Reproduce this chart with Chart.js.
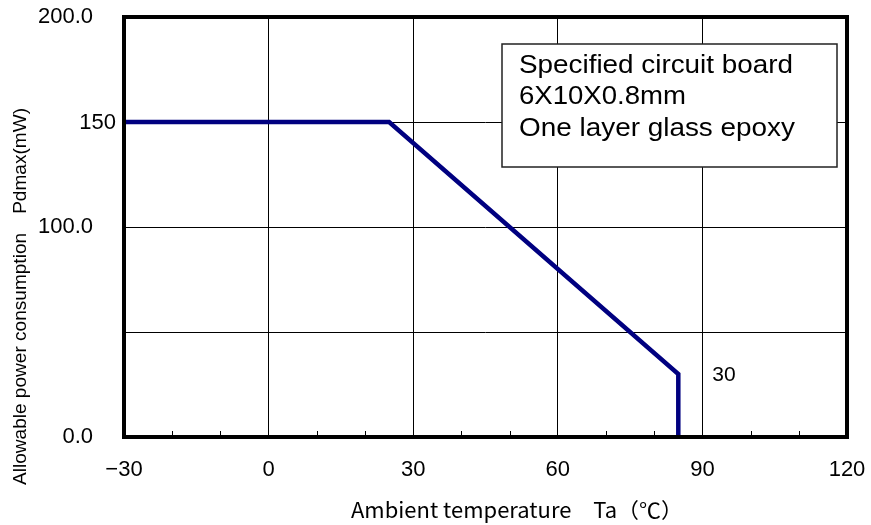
<!DOCTYPE html>
<html>
<head>
<meta charset="utf-8">
<script src="https://cdn.jsdelivr.net/npm/chart.js@4.4.1/dist/chart.umd.min.js"></script>
<style>
  html, body { margin: 0; padding: 0; background: #fff; }
</style>
</head>
<body>
<canvas id="deratingChart" width="871" height="525"></canvas>
<script>
// derating curve: Ta (°C) vs Pdmax (mW)
const tempPoints = [-30, 25, 85, 85];
const powerPoints = [150, 150, 30, 0];

const xTickValues = [-30, 0, 30, 60, 90, 120];
const yTickValues = [0, 100, 200];
const yTickLabels = ["0.0", "100.0", "200.0"];

// which points get their value written next to them
const valueLabelPoints = [0, 2];

const noteLines = ["Specified circuit board", "6X10X0.8mm", "One layer glass epoxy"];
const xTitle = "Ambient temperature\u3000Ta\uFF08\u2103\uFF09";
const yTitle = "Allowable power consumption\u3000Pdmax(mW)";

const tickFont = "'Liberation Sans', Arial, sans-serif";

function drawStretched(ctx, text, x, y, targetWidth) {
  const w = ctx.measureText(text).width;
  ctx.save();
  ctx.translate(x, y);
  ctx.scale(targetWidth / w, 1);
  ctx.fillText(text, 0, 0);
  ctx.restore();
}

const chartDecor = {
  id: "chartDecor",
  beforeDatasetsDraw(chart) {
    const { ctx } = chart;
    ctx.save();
    ctx.fillStyle = "#fff";
    ctx.fillRect(502, 44, 335, 123);
    ctx.strokeStyle = "#222";
    ctx.lineWidth = 1.5;
    ctx.strokeRect(502, 44, 335, 123);

    ctx.fillStyle = "#000";
    ctx.font = "25px " + tickFont;
    ctx.textAlign = "left";
    ctx.textBaseline = "alphabetic";
    const noteWidths = [274, 167, 276];
    noteLines.forEach((line, i) => {
      drawStretched(ctx, line, 519, 72.5 + i * 31.5, noteWidths[i]);
    });
    ctx.restore();
  },
  afterDatasetsDraw(chart) {
    const { ctx, chartArea: a, scales } = chart;
    ctx.save();

    // small inward ticks on the bottom axis
    ctx.strokeStyle = "#000";
    ctx.lineWidth = 1;
    scales.x.ticks.forEach((t) => {
      if (t.value % 30 === 0) return;
      const px = Math.round(scales.x.getPixelForValue(t.value)) + 0.5;
      ctx.beginPath();
      ctx.moveTo(px, a.bottom);
      ctx.lineTo(px, a.bottom - 6);
      ctx.stroke();
    });

    // plot frame
    ctx.lineWidth = 4;
    ctx.strokeRect(a.left, a.top, a.right - a.left, a.bottom - a.top);

    // value labels beside the curve
    const meta = chart.getDatasetMeta(0);
    ctx.fillStyle = "#000";
    ctx.font = "22px " + tickFont;
    ctx.textBaseline = "middle";
    const first = meta.data[valueLabelPoints[0]];
    ctx.textAlign = "right";
    ctx.fillText(String(powerPoints[valueLabelPoints[0]]), first.x - 8, first.y + 1);
    const knee = meta.data[valueLabelPoints[1]];
    ctx.textAlign = "left";
    ctx.font = "21px " + tickFont;
    ctx.fillText(String(powerPoints[valueLabelPoints[1]]), knee.x + 34, knee.y + 1);

    // axis titles
    ctx.textBaseline = "alphabetic";
    ctx.textAlign = "left";
    ctx.font = "21px 'Noto Sans CJK JP', sans-serif";
    drawStretched(ctx, xTitle, 351, 518, 332);

    ctx.save();
    ctx.translate(26, 485);
    ctx.rotate(-Math.PI / 2);
    ctx.font = "19px " + tickFont;
    drawStretched(ctx, yTitle, 0, 0, 377);
    ctx.restore();

    ctx.restore();
  },
};

new Chart(document.getElementById("deratingChart"), {
  type: "scatter",
  data: {
    datasets: [
      {
        data: tempPoints.map((t, i) => ({ x: t, y: powerPoints[i] })),
        showLine: true,
        borderColor: "#000080",
        borderWidth: 4.5,
        borderJoinStyle: "miter",
        pointRadius: 0,
        tension: 0,
      },
    ],
  },
  options: {
    responsive: false,
    animation: false,
    layout: {
      autoPadding: false,
      padding: { top: 17, right: 24, left: 0, bottom: 0 },
    },
    plugins: {
      legend: { display: false },
      tooltip: { enabled: false },
    },
    scales: {
      x: {
        type: "linear",
        min: -30,
        max: 120,
        afterFit(scale) {
          scale.height = 88;
          scale.paddingLeft = 0;
          scale.paddingRight = 0;
        },
        border: { display: false },
        grid: {
          color(c) {
            return c.tick && c.tick.value % 30 === 0 ? "#000" : "rgba(0,0,0,0)";
          },
          lineWidth: 1,
          drawTicks: false,
        },
        ticks: {
          stepSize: 10,
          padding: 20,
          color: "#000",
          font: { family: tickFont, size: 22 },
          maxRotation: 0,
          autoSkip: false,
          callback(value) {
            return xTickValues.includes(value) ? String(value).replace("-", "\u2212") : "";
          },
        },
      },
      y: {
        min: 0,
        max: 200,
        afterFit(scale) {
          scale.width = 124;
          scale.paddingTop = 0;
          scale.paddingBottom = 0;
        },
        border: { display: false },
        grid: {
          color: "#000",
          lineWidth: 1,
          drawTicks: false,
        },
        ticks: {
          stepSize: 50,
          padding: 31,
          color: "#000",
          font: { family: tickFont, size: 22 },
          callback(value) {
            const idx = yTickValues.indexOf(value);
            return idx >= 0 ? yTickLabels[idx] : "";
          },
        },
      },
    },
  },
  plugins: [chartDecor],
});
</script>
</body>
</html>
